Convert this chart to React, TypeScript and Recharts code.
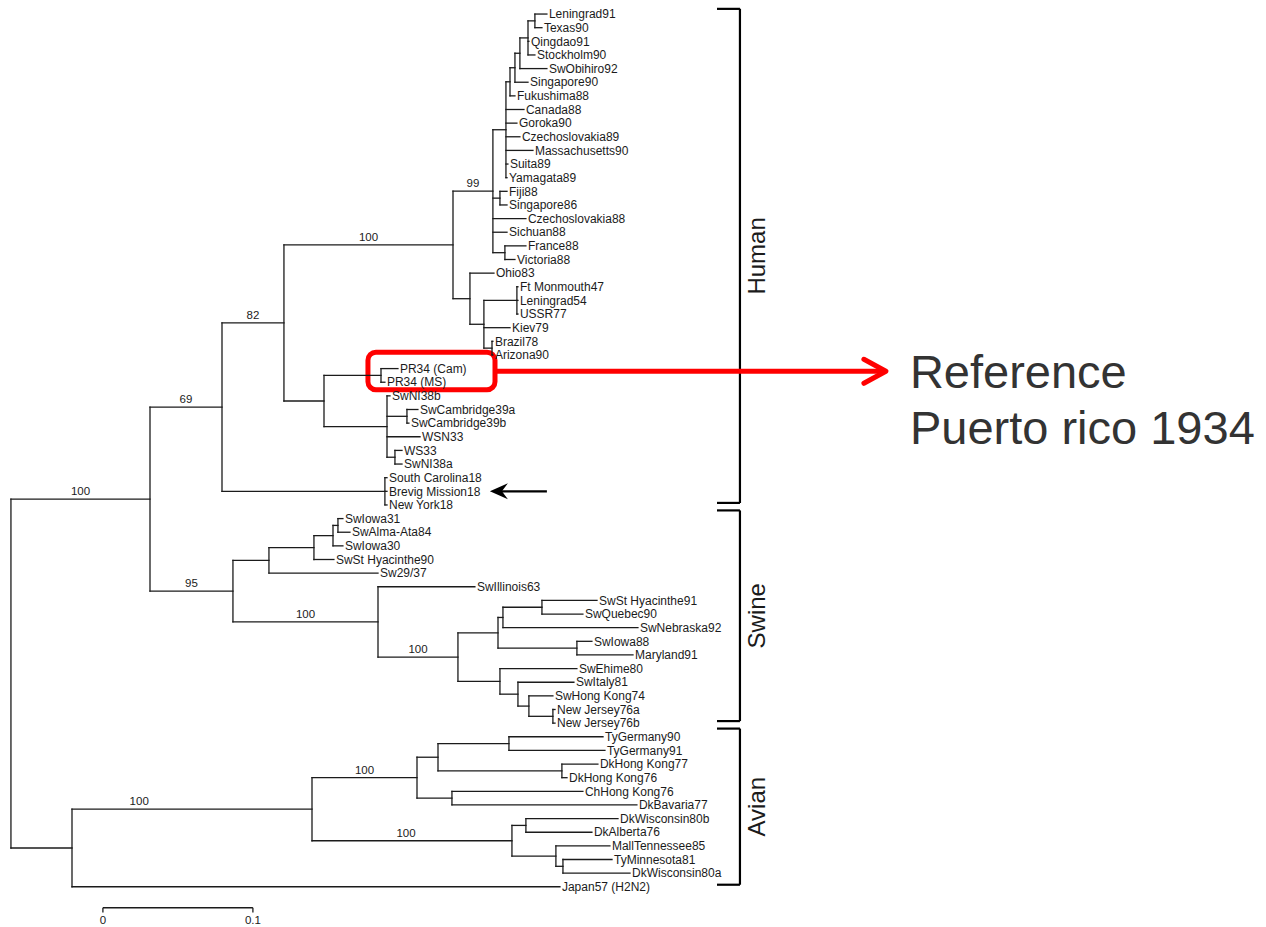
import React from "react";
import { ReferenceArea, ReferenceLine, Scatter, ScatterChart, XAxis, YAxis } from "recharts";

// leaves from top to bottom: [name, parent clade, distance from root]
const leaves: [string, string, number][] = [
  ["Leningrad91", "lt", 0.3573],
  ["Texas90", "lt", 0.354],
  ["Qingdao91", "n1", 0.3453],
  ["Stockholm90", "n1", 0.3493],
  ["SwObihiro92", "n2", 0.3573],
  ["Singapore90", "n3", 0.3447],
  ["Fukushima88", "n4", 0.336],
  ["Canada88", "h1a", 0.342],
  ["Goroka90", "h1a", 0.3373],
  ["Czechoslovakia89", "h1a", 0.3393],
  ["Massachusetts90", "h1a", 0.348],
  ["Suita89", "h1a", 0.3313],
  ["Yamagata89", "h1a", 0.3307],
  ["Fiji88", "fj", 0.3307],
  ["Singapore86", "fj", 0.3307],
  ["Czechoslovakia88", "h1", 0.3433],
  ["Sichuan88", "h1", 0.3307],
  ["France88", "fr", 0.3433],
  ["Victoria88", "fr", 0.336],
  ["Ohio83", "h2", 0.322],
  ["Ft Monmouth47", "mm", 0.338],
  ["Leningrad54", "mm", 0.338],
  ["USSR77", "mm", 0.338],
  ["Kiev79", "h3", 0.3327],
  ["Brazil78", "ba", 0.3213],
  ["Arizona90", "ba", 0.3213],
  ["PR34 (Cam)", "pr", 0.258],
  ["PR34 (MS)", "pr", 0.2493],
  ["SwNI38b", "q", 0.2527],
  ["SwCambridge39a", "sc", 0.2713],
  ["SwCambridge39b", "sc", 0.2653],
  ["WSN33", "q", 0.2727],
  ["WS33", "ws", 0.2607],
  ["SwNI38a", "ws", 0.2607],
  ["South Carolina18", "f18", 0.2507],
  ["Brevig Mission18", "f18", 0.2507],
  ["New York18", "f18", 0.2507],
  ["SwIowa31", "s1c", 0.2213],
  ["SwAlma-Ata84", "s1c", 0.226],
  ["SwIowa30", "s1b", 0.2213],
  ["SwSt Hyacinthe90", "s1a", 0.2153],
  ["Sw29/37", "s1", 0.2447],
  ["SwIllinois63", "s2", 0.3093],
  ["SwSt Hyacinthe91", "sq", 0.3907],
  ["SwQuebec90", "sq", 0.3813],
  ["SwNebraska92", "s4a", 0.418],
  ["SwIowa88", "s4b", 0.3873],
  ["Maryland91", "s4b", 0.4147],
  ["SwEhime80", "s5", 0.3773],
  ["SwItaly81", "s6", 0.3753],
  ["SwHong Kong74", "s7", 0.3613],
  ["New Jersey76a", "nj", 0.3627],
  ["New Jersey76b", "nj", 0.3627],
  ["TyGermany90", "tg", 0.3947],
  ["TyGermany91", "tg", 0.396],
  ["DkHong Kong77", "dk", 0.3913],
  ["DkHong Kong76", "dk", 0.3707],
  ["ChHong Kong76", "av5", 0.3813],
  ["DkBavaria77", "av5", 0.4173],
  ["DkWisconsin80b", "av6", 0.4047],
  ["DkAlberta76", "av6", 0.3873],
  ["MallTennessee85", "av7", 0.3993],
  ["TyMinnesota81", "av8", 0.4007],
  ["DkWisconsin80a", "av8", 0.4127],
  ["Japan57 (H2N2)", "av", 0.366],
];

// internal nodes: [id, parent, distance from root]
const clades: [string, string, number][] = [
  ["root", "", 0],
  ["a", "root", 0.0927],
  ["av", "root", 0.0407],
  ["b", "a", 0.1407],
  ["s", "a", 0.148],
  ["c", "b", 0.182],
  ["f18", "b", 0.2493],
  ["h", "c", 0.2947],
  ["p", "c", 0.2087],
  ["h1", "h", 0.3213],
  ["h2", "h", 0.306],
  ["h1a", "h1", 0.33],
  ["n4", "h1a", 0.3327],
  ["n3", "n4", 0.336],
  ["n2", "n3", 0.3393],
  ["n1", "n2", 0.3447],
  ["lt", "n1", 0.3493],
  ["fj", "h1", 0.326],
  ["fr", "h1", 0.3293],
  ["h3", "h2", 0.3153],
  ["mm", "h3", 0.3373],
  ["ba", "h3", 0.3207],
  ["pr", "p", 0.2467],
  ["q", "p", 0.2507],
  ["sc", "q", 0.264],
  ["ws", "q", 0.256],
  ["s1", "s", 0.172],
  ["s1a", "s1", 0.202],
  ["s1b", "s1a", 0.2147],
  ["s1c", "s1b", 0.218],
  ["s2", "s", 0.2447],
  ["s3", "s2", 0.298],
  ["s4", "s3", 0.3247],
  ["s4a", "s4", 0.328],
  ["sq", "s4a", 0.354],
  ["s4b", "s4", 0.3773],
  ["s5", "s3", 0.326],
  ["s6", "s5", 0.338],
  ["s7", "s6", 0.3453],
  ["nj", "s7", 0.3613],
  ["av1", "av", 0.2007],
  ["av2", "av1", 0.2707],
  ["av4", "av2", 0.2847],
  ["tg", "av4", 0.332],
  ["dk", "av4", 0.3673],
  ["av5", "av2", 0.294],
  ["av3", "av1", 0.334],
  ["av6", "av3", 0.3433],
  ["av7", "av3", 0.3633],
  ["av8", "av7", 0.368],
];

// bootstrap values: [clade, value, where along the branch]
const support: [string, string, number][] = [
  ["a", "100", 0.5],
  ["b", "69", 0.5],
  ["c", "82", 0.5],
  ["h", "100", 0.5],
  ["h1", "99", 0.5],
  ["s", "95", 0.5],
  ["s2", "100", 0.5],
  ["s3", "100", 0.5],
  ["av1", "100", 0.28],
  ["av2", "100", 0.5],
  ["av3", "100", 0.47],
];

// host brackets: [label, from row, to row]
const hosts: [string, number, number][] = [
  ["Human", -0.38, 35.85],
  ["Swine", 36.4, 51.85],
  ["Avian", 52.4, 63.85],
];

const scaleBar = [0, 0.1];
const X_DOMAIN = [-0.0073, 0.8367];
const Y_DOMAIN = [-1.03, 66.95];
const FONT = "'Liberation Sans', Arial, Helvetica, sans-serif";
const INK = "#1b1b1b";

type TreeNode = { id: string; parent: string; depth: number; y: number; kids: TreeNode[] };

function buildTree() {
  const map = new Map<string, TreeNode>();
  clades.forEach(([id, parent, depth]) => map.set(id, { id, parent, depth, y: NaN, kids: [] }));
  leaves.forEach(([, parent, depth], i) =>
    map.set("leaf" + i, { id: "leaf" + i, parent, depth, y: i, kids: [] })
  );
  map.forEach((n) => {
    if (n.parent) map.get(n.parent)!.kids.push(n);
  });
  const place = (n: TreeNode): number => {
    if (!n.kids.length) return n.y;
    const ys = n.kids.map(place);
    n.y = (Math.min(...ys) + Math.max(...ys)) / 2;
    return n.y;
  };
  place(map.get("root")!);

  const segs: { x1: number; y1: number; x2: number; y2: number }[] = [];
  map.forEach((n) => {
    if (n.parent) {
      const p = map.get(n.parent)!;
      segs.push({ x1: p.depth, y1: n.y, x2: n.depth, y2: n.y });
    }
    if (n.kids.length) {
      const ys = n.kids.map((k) => k.y);
      segs.push({ x1: n.depth, y1: Math.min(...ys), x2: n.depth, y2: Math.max(...ys) });
    }
  });
  return { map, segs };
}

const { map: nodes, segs } = buildTree();

const leafPoints = leaves.map(([name, , depth], i) => ({ x: depth, y: i, name }));
const supportPoints = support.map(([id, value, f]) => {
  const n = nodes.get(id)!;
  const p = nodes.get(n.parent)!;
  return { x: p.depth + (n.depth - p.depth) * f, y: n.y, name: value };
});
const BRACKET_X = [0.4707, 0.486];
const hostPoints = hosts.map(([name, a, b]) => ({ x: 0.4973, y: (a + b) / 2, name }));
const noteLines = [
  { x: 0.5993, y: 27.42, name: "Reference" },
  { x: 0.5993, y: 31.5, name: "Puerto rico 1934" },
];
const SCALE_X0 = 0.0613;
const SCALE_ROW = 65.54;
const scaleLabels = scaleBar.map((v) => ({ x: SCALE_X0 + v, y: 66.45, name: String(v) }));

const leafShape = (p: any) => (
  <text x={p.cx + 2} y={p.cy + 4.2} fontSize={12} fontFamily={FONT} fill={INK}>
    {p.payload?.name}
  </text>
);
const centerShape = (size: number, dy: number) => (p: any) => (
  <text x={p.cx} y={p.cy + dy} fontSize={size} fontFamily={FONT} fill={INK} textAnchor="middle">
    {p.payload?.name}
  </text>
);
const hostShape = (p: any) => (
  <text
    x={p.cx}
    y={p.cy}
    fontSize={24}
    fontFamily={FONT}
    fill={INK}
    textAnchor="middle"
    dominantBaseline="central"
    transform={`rotate(-90 ${p.cx} ${p.cy})`}
  >
    {p.payload?.name}
  </text>
);
const noteShape = (p: any) => (
  <text x={p.cx} y={p.cy} fontSize={47} fontFamily={FONT} fill="#333333">
    {p.payload?.name}
  </text>
);

const redArrow = (p: any) => (
  <g>
    <line x1={p.x1} y1={p.y1} x2={p.x2 - 3} y2={p.y2} stroke="#ff0000" strokeWidth={5} />
    <polyline
      points={`${p.x2 - 22},${p.y2 - 12} ${p.x2},${p.y2} ${p.x2 - 22},${p.y2 + 12}`}
      fill="none"
      stroke="#ff0000"
      strokeWidth={5}
      strokeLinecap="round"
      strokeLinejoin="round"
    />
  </g>
);
const blackArrow = (p: any) => (
  <g>
    <line x1={p.x1 + 10} y1={p.y1} x2={p.x2} y2={p.y2} stroke="#000" strokeWidth={2.2} />
    <path
      d={`M${p.x1},${p.y1} L${p.x1 + 18},${p.y1 - 8} L${p.x1 + 12},${p.y1} L${p.x1 + 18},${p.y1 + 8} Z`}
      fill="#000"
    />
  </g>
);
const redBox = (p: any) => {
  const x = p.width < 0 ? p.x + p.width : p.x;
  const y = p.height < 0 ? p.y + p.height : p.y;
  return (
    <rect
      x={x}
      y={y}
      width={Math.abs(p.width)}
      height={Math.abs(p.height)}
      rx={8}
      fill="none"
      stroke="#ff0000"
      strokeWidth={5}
    />
  );
};

export default function App() {
  return (
    <div style={{ position: "absolute", left: 0, top: 0, width: 1266, height: 927, background: "#fff" }}>
      <ScatterChart width={1266} height={927} margin={{ top: 0, right: 0, bottom: 0, left: 0 }}>
        <XAxis type="number" dataKey="x" domain={X_DOMAIN} allowDataOverflow hide />
        <YAxis type="number" dataKey="y" domain={Y_DOMAIN} allowDataOverflow reversed hide />

        {segs.map((s, i) => (
          <ReferenceLine
            key={"b" + i}
            segment={[{ x: s.x1, y: s.y1 }, { x: s.x2, y: s.y2 }]}
            stroke={INK}
            strokeWidth={1.3}
            strokeLinecap="square"
            ifOverflow="visible"
          />
        ))}

        {hosts.map(([name, a, b]) => (
          <ReferenceLine
            key={name + "v"}
            segment={[{ x: BRACKET_X[1], y: a }, { x: BRACKET_X[1], y: b }]}
            stroke="#000"
            strokeWidth={2.2}
            ifOverflow="visible"
          />
        ))}
        {hosts.map(([name, a]) => (
          <ReferenceLine
            key={name + "t"}
            segment={[{ x: BRACKET_X[0], y: a }, { x: BRACKET_X[1], y: a }]}
            stroke="#000"
            strokeWidth={2.2}
            ifOverflow="visible"
          />
        ))}
        {hosts.map(([name, , b]) => (
          <ReferenceLine
            key={name + "b"}
            segment={[{ x: BRACKET_X[0], y: b }, { x: BRACKET_X[1], y: b }]}
            stroke="#000"
            strokeWidth={2.2}
            ifOverflow="visible"
          />
        ))}

        <ReferenceLine
          segment={[{ x: SCALE_X0 + scaleBar[0], y: SCALE_ROW }, { x: SCALE_X0 + scaleBar[1], y: SCALE_ROW }]}
          stroke={INK}
          strokeWidth={1.3}
          ifOverflow="visible"
        />
        {scaleBar.map((v) => (
          <ReferenceLine
            key={"sb" + v}
            segment={[{ x: SCALE_X0 + v, y: SCALE_ROW }, { x: SCALE_X0 + v, y: SCALE_ROW + 0.35 }]}
            stroke={INK}
            strokeWidth={1.3}
            ifOverflow="visible"
          />
        ))}

        <ReferenceArea x1={0.238} x2={0.3227} y1={24.8} y2={27.55} shape={redBox} ifOverflow="visible" />
        <ReferenceLine
          segment={[{ x: 0.3227, y: 26.2 }, { x: 0.5833, y: 26.2 }]}
          shape={redArrow}
          ifOverflow="visible"
        />
        <ReferenceLine
          segment={[{ x: 0.3193, y: 35 }, { x: 0.3573, y: 35 }]}
          shape={blackArrow}
          ifOverflow="visible"
        />

        <Scatter data={leafPoints} shape={leafShape} isAnimationActive={false} />
        <Scatter data={supportPoints} shape={centerShape(11.5, -4)} isAnimationActive={false} />
        <Scatter data={scaleLabels} shape={centerShape(11.5, 4)} isAnimationActive={false} />
        <Scatter data={hostPoints} shape={hostShape} isAnimationActive={false} />
        <Scatter data={noteLines} shape={noteShape} isAnimationActive={false} />
      </ScatterChart>
    </div>
  );
}
